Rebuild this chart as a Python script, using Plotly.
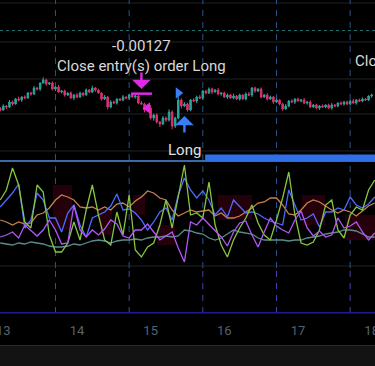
import plotly.graph_objects as go
import pandas as pd

# ---------------- data ----------------
day_labels = ["13", "14", "15", "16", "17", "18"]
day_ticks = ["2023-11-13", "2023-11-14", "2023-11-15", "2023-11-16", "2023-11-17", "2023-11-18"]
session_breaks = ["2023-11-13 17:00", "2023-11-14 17:00", "2023-11-15 17:00",
                  "2023-11-16 17:00", "2023-11-17 17:00"]

open0 = 1.08176
closes = [
    1.08170, 1.08182, 1.08179, 1.08194, 1.08188, 1.08203, 1.08200, 1.08209, 1.08206, 1.08221,
    1.08218, 1.08236, 1.08233, 1.08251, 1.08260, 1.08248, 1.08251, 1.08233, 1.08239, 1.08224,
    1.08227, 1.08215, 1.08221, 1.08206, 1.08215, 1.08209, 1.08221, 1.08215, 1.08230, 1.08224,
    1.08236, 1.08230, 1.08221, 1.08203, 1.08209, 1.08179, 1.08194, 1.08191, 1.08203, 1.08200,
    1.08209, 1.08206, 1.08215, 1.08209, 1.08212, 1.08191, 1.08188, 1.08170, 1.08176, 1.08146,
    1.08155, 1.08134, 1.08128, 1.08146, 1.08140, 1.08164, 1.08122, 1.08146, 1.08200, 1.08182,
    1.08188, 1.08170, 1.08200, 1.08197, 1.08209, 1.08206, 1.08227, 1.08221, 1.08233, 1.08224,
    1.08230, 1.08218, 1.08221, 1.08209, 1.08215, 1.08206, 1.08212, 1.08203, 1.08215, 1.08203,
    1.08218, 1.08215, 1.08236, 1.08227, 1.08233, 1.08209, 1.08215, 1.08203, 1.08209, 1.08194,
    1.08200, 1.08188, 1.08173, 1.08182, 1.08197, 1.08194, 1.08203, 1.08197, 1.08200, 1.08191,
    1.08194, 1.08179, 1.08185, 1.08176, 1.08182, 1.08179, 1.08185, 1.08176, 1.08185, 1.08182,
    1.08191, 1.08188, 1.08194, 1.08188, 1.08197, 1.08191, 1.08200, 1.08197, 1.08203, 1.08200,
    1.08212, 1.08215,
]
# wick lengths in points (1 point = 0.00001)
wick_up = [
    3, 5, 2, 6, 4, 3, 7, 2, 5, 3,
    4, 6, 3, 2, 8, 4, 3, 5, 2, 6,
    3, 4, 2, 5, 3, 6, 4, 2, 5, 3,
    7, 3, 4, 2, 6, 3, 5, 4, 2, 3,
    6, 2, 4, 5, 3, 2, 6, 4, 3, 9,
    4, 5, 3, 6, 4, 8, 5, 4, 12, 5,
    6, 4, 3, 5, 4, 6, 3, 2, 5, 4,
    3, 6, 2, 4, 5, 3, 7, 3, 4, 2,
    5, 6, 3, 4, 2, 5, 3, 6, 4, 3,
    5, 2, 4, 6, 3, 5, 2, 4, 3, 6,
    2, 5, 3, 4, 3, 5, 2, 4, 6, 3,
    2, 5, 3, 4, 2, 6, 3, 4, 5, 3,
    2, 4,
]
wick_dn = [
    4, 2, 6, 3, 5, 2, 4, 6, 3, 2,
    5, 3, 4, 6, 2, 5, 3, 4, 6, 2,
    4, 5, 3, 2, 6, 4, 3, 5, 2, 4,
    3, 6, 2, 5, 3, 7, 4, 2, 5, 3,
    4, 3, 6, 2, 5, 4, 3, 7, 4, 5,
    8, 4, 9, 3, 6, 5, 10, 6, 4, 7,
    3, 5, 4, 2, 6, 3, 5, 4, 3, 6,
    2, 4, 5, 3, 6, 2, 4, 3, 5, 2,
    4, 3, 6, 5, 3, 4, 2, 5, 3, 6,
    3, 4, 5, 2, 4, 3, 6, 2, 4, 3,
    5, 3, 2, 4, 6, 3, 4, 2, 5, 3,
    4, 2, 5, 3, 4, 2, 5, 3, 4, 2,
    3, 5,
]

# oscillator pane (2-hour samples)
osc_green = [70, 80, 102, 85, 48, 42, 85, 78, 35, 18, 18, 27, 48, 30, 60, 85, 55, 30, 25, 58,
             35, 75, 20, 13, 23, 27, 45, 70, 42, 75, 105, 55, 57, 52, 88, 45, 25, 13, 30, 42,
             52, 65, 47, 35, 30, 50, 72, 98, 55, 27, 25, 28, 40, 65, 70, 40, 32, 55, 63, 60,
             80, 90]
osc_blue = [63, 70, 77, 86, 42, 50, 77, 70, 52, 52, 38, 57, 65, 45, 33, 52, 55, 58, 64, 76,
            60, 61, 57, 50, 40, 48, 58, 62, 50, 75, 92, 80, 72, 79, 70, 55, 62, 53, 70, 63,
            57, 58, 56, 52, 49, 47, 45, 80, 65, 50, 52, 56, 43, 58, 58, 62, 60, 73, 65, 62,
            66, 73]
osc_purple = [33, 35, 38, 32, 45, 39, 34, 40, 50, 40, 26, 27, 65, 40, 33, 40, 35, 41, 50, 46,
              34, 32, 40, 40, 46, 38, 30, 34, 38, 22, 8, 48, 45, 52, 46, 40, 33, 24, 38, 47,
              49, 35, 23, 38, 52, 44, 40, 37, 50, 59, 42, 34, 39, 33, 35, 52, 42, 44, 48, 38,
              30, 37]
osc_orange = [50, 48, 45, 48, 46, 47, 55, 57, 62, 70, 75, 73, 70, 63, 62, 63, 60, 63, 60, 66,
              67, 63, 69, 73, 79, 77, 72, 70, 60, 54, 57, 60, 58, 59, 60, 54, 57, 52, 52, 54,
              58, 62, 67, 68, 72, 72, 65, 56, 55, 60, 67, 70, 68, 64, 60, 57, 60, 58, 54, 59,
              64, 67]
osc_teal = [27, 26, 25, 27, 26, 28, 27, 26, 24, 23, 23, 24, 26, 25, 27, 29, 30, 29, 27, 29,
            30, 30, 31, 30, 32, 33, 33, 34, 33, 34, 40, 39, 37, 36, 32, 30, 32, 36, 40, 38,
            37, 36, 32, 30, 30, 30, 30, 29, 30, 30, 32, 33, 34, 36, 37, 38, 40, 40, 39, 36,
            33, 33]

# dark red background zones in the oscillator pane
zone_start = ["2023-11-13 16:10", "2023-11-14 07:30", "2023-11-14 18:20", "2023-11-15 02:05",
              "2023-11-15 21:55", "2023-11-17 01:20", "2023-11-17 15:20"]
zone_end = ["2023-11-13 22:25", "2023-11-14 11:25", "2023-11-14 22:10", "2023-11-15 07:55",
            "2023-11-16 09:00", "2023-11-17 08:40", "2023-11-18 01:00"]
zone_low = [40, 35, 55, 25, 50, 45, 30]
zone_high = [85, 60, 75, 45, 75, 75, 55]

close_pnl = "-0.00127"
close_text = "Close entry(s) order Long"
entry_text = "Long"

# ---------------- derived series ----------------
t = pd.date_range("2023-11-12 23:00", periods=len(closes), freq="h")
opens = [open0] + closes[:-1]
highs = [max(o, c) + w * 1e-5 for o, c, w in zip(opens, closes, wick_up)]
lows = [min(o, c) - w * 1e-5 for o, c, w in zip(opens, closes, wick_dn)]
t2 = pd.date_range("2023-11-12 23:00", periods=len(osc_green), freq="2h")

zs = pd.to_datetime(zone_start)
ze = pd.to_datetime(zone_end)
zone_mid = [a + (b - a) / 2 for a, b in zip(zs, ze)]
zone_w = [(b - a).total_seconds() * 1000 for a, b in zip(zs, ze)]
zone_h = [h - l for h, l in zip(zone_high, zone_low)]

PLOT_H = 313.0
def py(p):
    return (PLOT_H - p) / PLOT_H

MAG = "#e028e6"
BLUE = "#3a7ef6"

fig = go.Figure()

fig.add_trace(go.Bar(x=zone_mid, y=zone_h, base=zone_low, width=zone_w, yaxis="y2",
                     marker=dict(color="#23000a", line=dict(width=0)),
                     showlegend=False, hoverinfo="skip"))

fig.add_trace(go.Candlestick(
    x=t, open=opens, high=highs, low=lows, close=closes,
    increasing=dict(line=dict(color="#26a69a", width=1), fillcolor="#26a69a"),
    decreasing=dict(line=dict(color="#e0306e", width=1), fillcolor="#e0306e"),
    whiskerwidth=0, showlegend=False, hoverinfo="skip", yaxis="y"))

for vals, col in [(osc_teal, "#5b8c8c"), (osc_orange, "#c8804c"),
                  (osc_blue, "#4d6cff"), (osc_green, "#86c540"), (osc_purple, "#b556f8")]:
    fig.add_trace(go.Scatter(x=t2, y=vals, mode="lines", yaxis="y2",
                             line=dict(color=col, width=1.3), showlegend=False, hoverinfo="skip"))

# trade markers
fig.add_trace(go.Scatter(x=[t[46]], y=[1.08219], mode="markers", yaxis="y",
                         marker=dict(symbol="line-ew", size=15, line=dict(color=MAG, width=2.5)),
                         showlegend=False, hoverinfo="skip"))
fig.add_trace(go.Scatter(x=[t[48]], y=[1.08176], mode="markers", yaxis="y",
                         marker=dict(symbol="triangle-left", size=10, color=MAG),
                         showlegend=False, hoverinfo="skip"))
fig.add_trace(go.Scatter(x=[t[58]], y=[1.08221], mode="markers", yaxis="y",
                         marker=dict(symbol="triangle-right", size=10, color=BLUE),
                         showlegend=False, hoverinfo="skip"))

shapes = []
# bottom band
shapes.append(dict(type="rect", xref="paper", yref="paper", x0=0, x1=1, y0=py(366), y1=py(345),
                   fillcolor="#131313", line=dict(width=0), layer="below"))
shapes.append(dict(type="line", xref="paper", yref="paper", x0=0, x1=1, y0=py(345.5), y1=py(345.5),
                   line=dict(color="#2a2a2a", width=1)))
# horizontal grid
for g in [3, 42, 79, 114, 151, 266]:
    shapes.append(dict(type="line", xref="paper", yref="paper", x0=0, x1=1, y0=py(g), y1=py(g),
                       line=dict(color="#1e222a", width=1), layer="below"))
shapes.append(dict(type="line", xref="paper", yref="paper", x0=0, x1=1, y0=py(30.5), y1=py(30.5),
                   line=dict(color="#1f7070", width=1, dash="dot"), layer="below"))
# session breaks
for sb in session_breaks:
    shapes.append(dict(type="line", xref="x", yref="paper", x0=sb, x1=sb, y0=py(268), y1=1,
                       line=dict(color="#2e5188", width=1, dash="6px,6px"), layer="below"))
    shapes.append(dict(type="line", xref="x", yref="paper", x0=sb, x1=sb, y0=0, y1=py(268),
                       line=dict(color="#4c3fa8", width=1, dash="6px,6px"), layer="below"))
# x axis line
shapes.append(dict(type="line", xref="paper", yref="paper", x0=0, x1=1, y0=py(312.7), y1=py(312.7),
                   line=dict(color="#1c1c92", width=1.5)))
# position line and bar
shapes.append(dict(type="line", xref="paper", yref="paper", x0=0, x1=1, y0=py(161), y1=py(161),
                   line=dict(color="#4f8fdc", width=1.5)))
shapes.append(dict(type="rect", xref="x", yref="paper", x0="2023-11-15 17:45", x1="2023-11-18 03:00",
                   y0=py(161), y1=py(154.5), fillcolor="#2f6fe8", line=dict(width=0)))

annotations = [
    dict(x=t[46], y=py(35), xref="x", yref="paper", text=close_pnl, showarrow=False,
         font=dict(size=15, color="#d8d8d8")),
    dict(x=t[46], y=py(55), xref="x", yref="paper", text=close_text, showarrow=False,
         font=dict(size=15, color="#d8d8d8")),
    dict(x=t[115], y=py(50), xref="x", yref="paper", text=close_text, showarrow=False,
         xanchor="left", font=dict(size=15, color="#d8d8d8")),
    dict(x=t[60], y=py(150), xref="x", yref="paper", text=entry_text, showarrow=False,
         font=dict(size=15, color="#e0e0e0")),
    dict(x=t[46], y=1.08233, xref="x", yref="y", ax=0, ay=-18, showarrow=True, text="",
         arrowhead=1, arrowsize=1.3, arrowwidth=2.4, arrowcolor=MAG),
    dict(x=t[60], y=1.08152, xref="x", yref="y", ax=0, ay=18, showarrow=True, text="",
         arrowhead=1, arrowsize=1.3, arrowwidth=2.4, arrowcolor=BLUE),
]

fig.update_layout(
    width=375, height=366, margin=dict(l=0, r=0, t=0, b=53, autoexpand=False),
    paper_bgcolor="#000000", plot_bgcolor="#000000",
    font=dict(family="Roboto", color="#d8d8d8"),
    showlegend=False, shapes=shapes, annotations=annotations, bargap=0,
    xaxis=dict(type="date", range=["2023-11-12 22:55:30", "2023-11-18 01:05:30"],
               anchor="free", position=0, automargin=False,
               tickvals=day_ticks, ticktext=day_labels, showgrid=False, zeroline=False,
               showline=False, ticks="", tickfont=dict(size=13, color="#55636e"),
               ticklabelstandoff=8, ticklabeloverflow="allow",
               rangeslider=dict(visible=False), fixedrange=True),
    yaxis=dict(domain=[py(160), 1], range=[1.08020, 1.08500], visible=False, fixedrange=True),
    yaxis2=dict(domain=[py(270), py(160)], range=[0, 110], visible=False, fixedrange=True),
)

fig.write_html("out.html")
